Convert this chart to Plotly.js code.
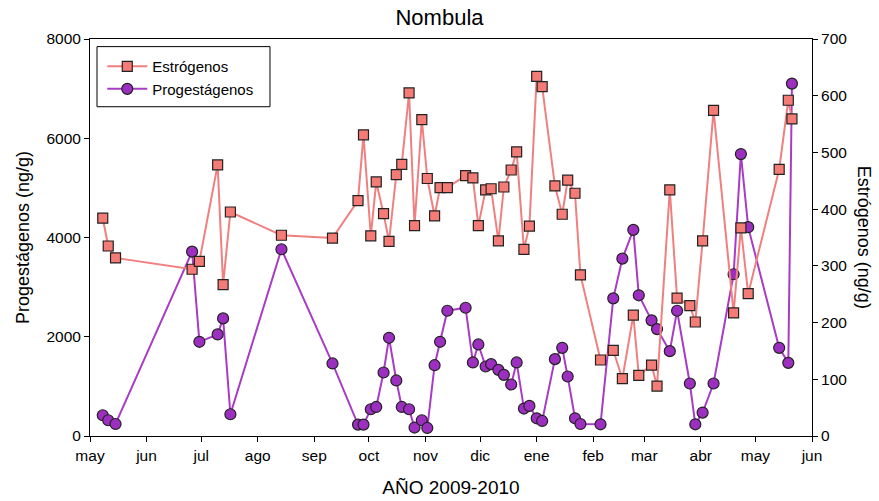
<!DOCTYPE html>
<html>
<head>
<meta charset="utf-8">
<script src="https://cdn.plot.ly/plotly-3.0.1.min.js"></script>
<style>html,body{margin:0;padding:0;background:#fff;}#chart{width:879px;height:501px;}</style>
</head>
<body>
<div id="chart"></div>
<script>
const dates = ['2009-05-08','2009-05-11','2009-05-15','2009-06-26','2009-06-30','2009-07-10','2009-07-13','2009-07-17','2009-08-14','2009-09-11',
  '2009-09-25','2009-09-28','2009-10-02','2009-10-05','2009-10-09','2009-10-12','2009-10-16','2009-10-19','2009-10-23','2009-10-26',
  '2009-10-30','2009-11-02','2009-11-06','2009-11-09','2009-11-13','2009-11-23','2009-11-27','2009-11-30','2009-12-04','2009-12-07',
  '2009-12-11','2009-12-14','2009-12-18','2009-12-21','2009-12-25','2009-12-28','2010-01-01','2010-01-04','2010-01-11','2010-01-15',
  '2010-01-18','2010-01-22','2010-01-25','2010-02-05','2010-02-12','2010-02-17','2010-02-23','2010-02-26','2010-03-05','2010-03-08',
  '2010-03-15','2010-03-19','2010-03-26','2010-03-29','2010-04-02','2010-04-08','2010-04-19','2010-04-23','2010-04-27','2010-05-14',
  '2010-05-19','2010-05-21'];
const estrogenos = [384,335,314,294,308,478,267,395,354,349,
  415,531,353,448,392,343,461,479,605,371,
  558,454,388,438,438,459,455,371,434,436,
  344,439,469,501,329,370,634,616,441,391,
  451,428,284,134,151,101,213,107,125,88,
  434,243,230,201,344,574,217,367,251,470,
  592,559];
const progestagenos = [418,317,242,3715,1898,2047,2370,438,3763,1462,
  230,230,539,585,1280,1979,1119,585,539,170,
  317,162,1427,1898,2524,2584,1482,1845,1401,1448,
  1333,1232,1038,1482,553,606,357,303,1549,1777,
  1199,357,242,236,2774,3574,4153,2835,2330,2154,
  1710,2524,1058,236,472,1058,3259,5681,4208,1777,
  1474,7101];
const monthTicks = ['2009-05-01','2009-06-01','2009-07-01','2009-08-01','2009-09-01','2009-10-01','2009-11-01','2009-12-01','2010-01-01','2010-02-01','2010-03-01','2010-04-01','2010-05-01','2010-06-01'];
const monthLabels = ['may','jun','jul','ago','sep','oct','nov','dic','ene','feb','mar','abr','may','jun'];
const leftTicks = [0,2000,4000,6000,8000];
const rightTicks = [0,100,200,300,400,500,600,700];

const FONT = 'Liberation Sans, Arial, Helvetica, sans-serif';
const tickFont = {family: FONT, size: 15.5, color: '#000'};
const traces = [
  {x: dates, y: estrogenos, name: 'Estrógenos', yaxis: 'y2', type: 'scatter', mode: 'lines+markers',
   line: {color: '#F08080', width: 2},
   marker: {symbol: 'square', size: 10, color: '#F47B76', line: {color: '#222', width: 1.2}}},
  {x: dates, y: progestagenos, name: 'Progestágenos', yaxis: 'y', type: 'scatter', mode: 'lines+markers',
   line: {color: '#A93CC6', width: 2},
   marker: {symbol: 'circle', size: 11, color: '#9C2FC0', line: {color: '#222', width: 1.2}}}
];
const layout = {
  width: 879, height: 501,
  margin: {l: 90, r: 67, t: 39, b: 65},
  paper_bgcolor: '#fff', plot_bgcolor: '#fff',
  showlegend: true,
  title: {text: 'Nombula', font: {family: FONT, size: 22, color: '#000'}, x: 0.5, xanchor: 'center', y: 0.965, yanchor: 'middle'},
  xaxis: {
    type: 'date', range: ['2009-05-01','2010-06-01'],
    tickmode: 'array', tickvals: monthTicks, ticktext: monthLabels,
    ticks: 'outside', ticklen: 5, tickcolor: '#000', tickwidth: 1,
    showline: true, linecolor: '#000', linewidth: 1, mirror: true,
    showgrid: false, zeroline: false, tickfont: tickFont,
    title: {text: 'AÑO 2009-2010', font: {family: FONT, size: 19, color: '#000'}, standoff: 18}
  },
  yaxis: {
    range: [0, 8000], tickmode: 'array', tickvals: leftTicks,
    ticks: 'outside', ticklen: 5, tickcolor: '#000', tickwidth: 1,
    showline: true, linecolor: '#000', linewidth: 1,
    showgrid: false, zeroline: false, tickfont: tickFont,
    title: {text: 'Progestágenos (ng/g)', font: {family: FONT, size: 18, color: '#000'}, standoff: 12}
  },
  yaxis2: {
    range: [0, 700], overlaying: 'y', side: 'right', tickmode: 'array', tickvals: rightTicks,
    ticks: 'outside', ticklen: 5, tickcolor: '#000', tickwidth: 1,
    showline: true, linecolor: '#000', linewidth: 1,
    showgrid: false, zeroline: false, tickfont: tickFont
  },
  legend: {
    x: 0.017, y: 0.972, xanchor: 'left', yanchor: 'top',
    bgcolor: 'rgba(0,0,0,0)', borderwidth: 0,
    font: {family: FONT, size: 15, color: '#000'},
    tracegroupgap: 0, itemwidth: 40
  },
  shapes: [
    {type: 'rect', xref: 'paper', yref: 'paper', x0: 0.0097, x1: 0.2493, y0: 0.8294, y1: 0.9808,
     line: {color: '#000', width: 1}, fillcolor: 'rgba(0,0,0,0)', layer: 'above'}
  ],
  annotations: [
    {text: 'Estrógenos (ng/g)', xref: 'paper', yref: 'paper', x: 1.073, y: 0.5, xanchor: 'center', yanchor: 'middle',
     textangle: 90, showarrow: false, font: {family: FONT, size: 18, color: '#000'}}
  ]
};
Plotly.newPlot('chart', traces, layout, {displayModeBar: false, staticPlot: true});
</script>
</body>
</html>
